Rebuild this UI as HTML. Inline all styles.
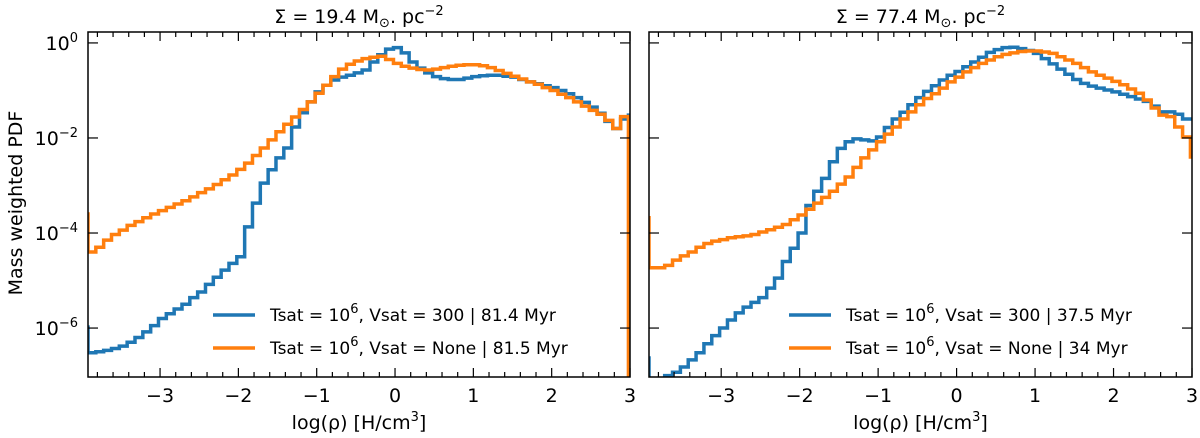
<!DOCTYPE html>
<html><head><meta charset="utf-8"><style>
html,body{margin:0;padding:0;background:#fff;}
svg{display:block;font-family:"DejaVu Sans","Liberation Sans",sans-serif;}
</style></head><body>
<svg id="chart" width="1200" height="438" viewBox="0 0 1200 438" xmlns="http://www.w3.org/2000/svg"></svg>
<script>
const xTicks = [-3,-2,-1,0,1,2,3];
const xTickLabels = ["\u22123","\u22122","\u22121","0","1","2","3"];
const yTicks = [0,-2,-4,-6];
const yTickExp = ["0","\u22122","\u22124","\u22126"];
const binStart = -4.02, binWidth = 0.1;
const titles = ["19.4","77.4"];
const legendBlue = ["Tsat = 10|6|, Vsat = 300 | 81.4 Myr","Tsat = 10|6|, Vsat = 300 | 37.5 Myr"];
const legendOrange = ["Tsat = 10|6|, Vsat = None | 81.5 Myr","Tsat = 10|6|, Vsat = None | 34 Myr"];
// log10 PDF values per bin (edge bin, 69 bins, edge bin)
const leftBlue = [-5.98,
-6.52,-6.5,-6.47,-6.43,-6.38,-6.3,-6.2,-6.08,-5.95,-5.8,
-5.7,-5.6,-5.5,-5.36,-5.24,-5.08,-4.93,-4.78,-4.64,-4.5,
-3.87,-3.37,-2.95,-2.67,-2.42,-2.21,-1.77,-1.47,-1.24,-1.03,
-0.89,-0.78,-0.72,-0.68,-0.63,-0.57,-0.4,-0.25,-0.13,-0.1,
-0.21,-0.4,-0.53,-0.63,-0.71,-0.75,-0.77,-0.77,-0.74,-0.71,
-0.69,-0.68,-0.68,-0.7,-0.72,-0.77,-0.82,-0.86,-0.9,-0.94,
-1.0,-1.07,-1.15,-1.25,-1.35,-1.48,-1.65,-1.8,-1.6,
-1.52];
const leftOrange = [-3.6,
-4.4,-4.3,-4.15,-4.03,-3.94,-3.84,-3.76,-3.68,-3.6,-3.53,
-3.46,-3.39,-3.32,-3.24,-3.15,-3.07,-2.98,-2.88,-2.78,-2.66,
-2.53,-2.37,-2.21,-2.04,-1.87,-1.71,-1.56,-1.4,-1.24,-1.06,
-0.89,-0.71,-0.55,-0.45,-0.38,-0.33,-0.3,-0.28,-0.35,-0.43,
-0.49,-0.53,-0.56,-0.57,-0.55,-0.52,-0.49,-0.47,-0.46,-0.46,
-0.48,-0.52,-0.58,-0.64,-0.7,-0.76,-0.82,-0.87,-0.94,-1.0,
-1.08,-1.15,-1.24,-1.33,-1.42,-1.5,-1.63,-1.8,-1.55,
-8];
const rightBlue = [-6.63,
-7.3,-7.1,-7.0,-6.93,-6.82,-6.67,-6.52,-6.33,-6.16,-6.0,
-5.83,-5.68,-5.56,-5.46,-5.36,-5.16,-4.95,-4.6,-4.32,-4.0,
-3.42,-3.12,-2.85,-2.5,-2.22,-2.08,-2.02,-2.04,-2.06,-1.98,
-1.78,-1.6,-1.46,-1.3,-1.15,-1.02,-0.9,-0.78,-0.68,-0.6,
-0.5,-0.4,-0.3,-0.2,-0.14,-0.1,-0.09,-0.12,-0.16,-0.22,
-0.33,-0.44,-0.55,-0.66,-0.77,-0.85,-0.91,-0.95,-0.99,-1.03,
-1.08,-1.13,-1.18,-1.23,-1.33,-1.45,-1.45,-1.5,-1.6,
-1.6];
const rightOrange = [-3.68,
-4.73,-4.73,-4.68,-4.57,-4.48,-4.4,-4.3,-4.22,-4.17,-4.14,
-4.1,-4.08,-4.06,-4.03,-3.98,-3.93,-3.88,-3.82,-3.72,-3.62,
-3.5,-3.37,-3.25,-3.12,-2.97,-2.82,-2.62,-2.42,-2.25,-2.08,
-1.92,-1.77,-1.6,-1.45,-1.3,-1.17,-1.07,-0.95,-0.82,-0.72,
-0.61,-0.52,-0.43,-0.36,-0.29,-0.24,-0.21,-0.18,-0.17,-0.17,
-0.19,-0.22,-0.29,-0.36,-0.43,-0.52,-0.61,-0.68,-0.74,-0.81,
-0.88,-0.97,-1.06,-1.2,-1.37,-1.52,-1.55,-1.77,-1.98,
-2.4];

const NS="http://www.w3.org/2000/svg";
const svg=document.getElementById('chart');
function mk(tag,attrs,parent){const e=document.createElementNS(NS,tag);for(const k in attrs)e.setAttribute(k,attrs[k]);(parent||svg).appendChild(e);return e;}

const panels=[{x0:88,x1:630,blue:leftBlue,orange:leftOrange,labels:true},
              {x0:649,x1:1192,blue:rightBlue,orange:rightOrange,labels:false}];
const yTop=32,yBot=377,xmin=-3.92,xmax=3.0,ymin=-7.03,ymax=0.23;
const FS=19, SUP=13, LFS=17;

panels.forEach((p,pi)=>{
  const g=mk('g',{});
  
  
  const sx=v=>p.x0+(v-xmin)/(xmax-xmin)*(p.x1-p.x0);
  const sy=v=>yBot-(v-ymin)/(ymax-ymin)*(yBot-yTop);
  const cid='clip'+pi;
  const cp=mk('clipPath',{id:cid},g);
  mk('rect',{x:p.x0,y:yTop,width:p.x1-p.x0,height:yBot-yTop},cp);
  function series(vals,color,name){
    let d='';
    vals.forEach((v,i)=>{
      const a=sx(binStart+i*binWidth), b=sx(binStart+(i+1)*binWidth), y=sy(v);
      d+=(i===0?'M':'L')+a.toFixed(2)+','+y.toFixed(2)+'L'+b.toFixed(2)+','+y.toFixed(2);
    });
    const path=mk('path',{d:d,fill:'none',stroke:color,'stroke-width':3.5,'clip-path':'url(#'+cid+')'},g);
    
    
  }
  series(p.blue,'#1f77b4','series-vsat-300');
  series(p.orange,'#ff7f0e','series-vsat-none');
  const fr=mk('rect',{x:p.x0,y:yTop,width:p.x1-p.x0,height:yBot-yTop,fill:'none',stroke:'#000','stroke-width':1.5},g);
  
  
  for(let k=0;k<=40;k++){
    const v=-3.8+k*0.2; if(v>xmax+1e-6) break;
    const major=Math.abs(v-Math.round(v))<1e-6;
    const L=major?9:5, X=sx(v);
    mk('line',{x1:X,x2:X,y1:yBot,y2:yBot-L,stroke:'#000','stroke-width':1.2},g);
    mk('line',{x1:X,x2:X,y1:yTop,y2:yTop+L,stroke:'#000','stroke-width':1.2},g);
  }
  xTicks.forEach((v,i)=>{
    const t=mk('text',{x:sx(v),y:402,'font-size':FS,'text-anchor':'middle',fill:'#000'},g);
    t.textContent=xTickLabels[i];
    
    
  });
  yTicks.forEach((v,i)=>{
    const Y=sy(v);
    mk('line',{x1:p.x0,x2:p.x0+10,y1:Y,y2:Y,stroke:'#000','stroke-width':1.2},g);
    mk('line',{x1:p.x1,x2:p.x1-10,y1:Y,y2:Y,stroke:'#000','stroke-width':1.2},g);
    if(p.labels){
      const t=mk('text',{x:78,y:Y+7,'font-size':FS,'text-anchor':'end',fill:'#000'},g);
      
      
      const a=mk('tspan',{},t);a.textContent='10';
      const b=mk('tspan',{dy:-8,'font-size':SUP},t);b.textContent=yTickExp[i];
    }
  });
  const cx=(p.x0+p.x1)/2;
  const tt=mk('text',{x:cx,y:23,'font-size':FS,'text-anchor':'middle',fill:'#000'},g);
  
  
  let s=mk('tspan',{},tt);s.textContent='\u03a3 = '+titles[pi]+' M';
  s=mk('tspan',{dy:4,'font-size':SUP},tt);s.textContent='\u2299';
  s=mk('tspan',{dy:-4},tt);s.textContent='. pc';
  s=mk('tspan',{dy:-8,'font-size':SUP},tt);s.textContent='\u22122';
  const xl=mk('text',{x:cx,y:429,'font-size':FS,'text-anchor':'middle',fill:'#000'},g);
  
  
  s=mk('tspan',{},xl);s.textContent='log(\u03c1) [H/cm';
  s=mk('tspan',{dy:-8,'font-size':SUP},xl);s.textContent='3';
  s=mk('tspan',{dy:8},xl);s.textContent=']';
  const lx=p.x0+(pi===0?125:140), tx=lx+57;
  [[legendBlue[pi],'#1f77b4',315],[legendOrange[pi],'#ff7f0e',348]].forEach(([txt,col,ly])=>{
    const ln=mk('line',{x1:lx,x2:lx+42,y1:ly,y2:ly,stroke:col,'stroke-width':3.5},g);
    
    
    const parts=txt.split('|');
    const t=mk('text',{x:tx,y:ly+6,'font-size':LFS,fill:'#000'},g);
    
    
    let a=mk('tspan',{},t);a.textContent=parts[0];
    a=mk('tspan',{dy:-8,'font-size':SUP},t);a.textContent=parts[1];
    a=mk('tspan',{dy:8},t);a.textContent=parts.slice(2).join('|');
  });
});
const yt=mk('text',{x:0,y:0,'font-size':FS,'text-anchor':'middle',fill:'#000',transform:'translate(22,203) rotate(-90)'});
yt.textContent='Mass weighted PDF';


</script>
</body></html>
